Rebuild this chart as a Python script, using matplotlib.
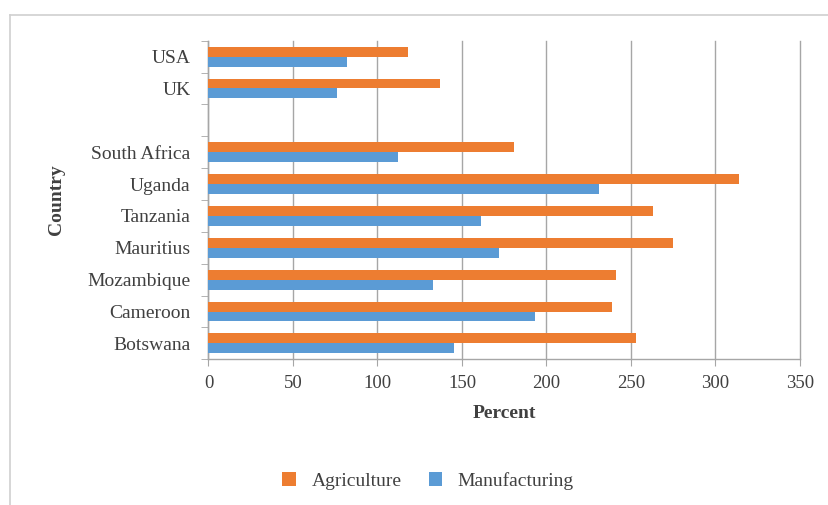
import matplotlib.pyplot as plt
from matplotlib.lines import Line2D
import numpy as np

# data (bottom to top)
countries = ["Botswana", "Cameroon", "Mozambique", "Mauritius", "Tanzania",
             "Uganda", "South Africa", "", "UK", "USA"]
agriculture = [253, 239, 241, 275, 263, 314, 181, 0, 137, 118]
manufacturing = [145, 193, 133, 172, 161, 231, 112, 0, 76, 82]
x_ticks = [0, 50, 100, 150, 200, 250, 300, 350]

orange = "#ED7D31"
blue = "#5B9BD5"
txt = "#404040"
grid = "#a6a6a6"

plt.rcParams["font.family"] = ["Liberation Serif", "DejaVu Serif"]

W, H = 829, 505
fig = plt.figure(figsize=(W / 100, H / 100), dpi=100)
ax = fig.add_axes([208.5 / W, (H - 359.3) / H, (800 - 208.5) / W, (359.3 - 40.7) / H])

y = np.arange(len(countries))
h = 0.31
ax.barh(y + h / 2, agriculture, height=h, color=orange, label="Agriculture", zorder=3)
ax.barh(y - h / 2, manufacturing, height=h, color=blue, label="Manufacturing", zorder=3)

ax.set_xlim(0, 350)
ax.set_ylim(-0.5, len(countries) - 0.5)
ax.set_xticks(x_ticks)
ax.set_xticklabels([str(t) for t in x_ticks])
ax.set_yticks(y)
ax.set_yticklabels(countries)
ax.set_yticks(np.arange(len(countries) + 1) - 0.5, minor=True)
ax.tick_params(axis="y", which="major", length=0, pad=13, labelsize=14, labelcolor=txt)
ax.tick_params(axis="y", which="minor", length=5, color=grid, direction="out")
ax.tick_params(axis="x", length=5, color=grid, labelsize=13.5, labelcolor=txt, pad=6)

ax.grid(axis="x", color=grid, linewidth=1, zorder=0)
for gl in ax.get_xgridlines():
    gl.set_clip_on(False)
for s in ["top", "right"]:
    ax.spines[s].set_visible(False)
for s in ["left", "bottom"]:
    ax.spines[s].set_color(grid)
    ax.spines[s].set_linewidth(1)

ax.set_xlabel("Percent", fontsize=14, fontweight="bold", color=txt, labelpad=10)
ax.set_ylabel("Country", fontsize=14, fontweight="bold", color=txt, labelpad=16)

ax.legend(loc="center", bbox_to_anchor=(428 / W, 1 - 481 / H),
          bbox_transform=fig.transFigure, ncol=2, frameon=False,
          fontsize=14, labelcolor=txt, handlelength=0.7, handleheight=0.7,
          columnspacing=1.4, handletextpad=0.8)

# outer chart border (only top and left are visible in the crop)
fig.add_artist(Line2D([10 / W, 1], [1 - 15 / H] * 2, transform=fig.transFigure,
                      color="#d0d0d0", linewidth=1.2))
fig.add_artist(Line2D([10 / W] * 2, [0, 1 - 15 / H], transform=fig.transFigure,
                      color="#d0d0d0", linewidth=1.2))

fig.savefig("out.png", dpi=100)
